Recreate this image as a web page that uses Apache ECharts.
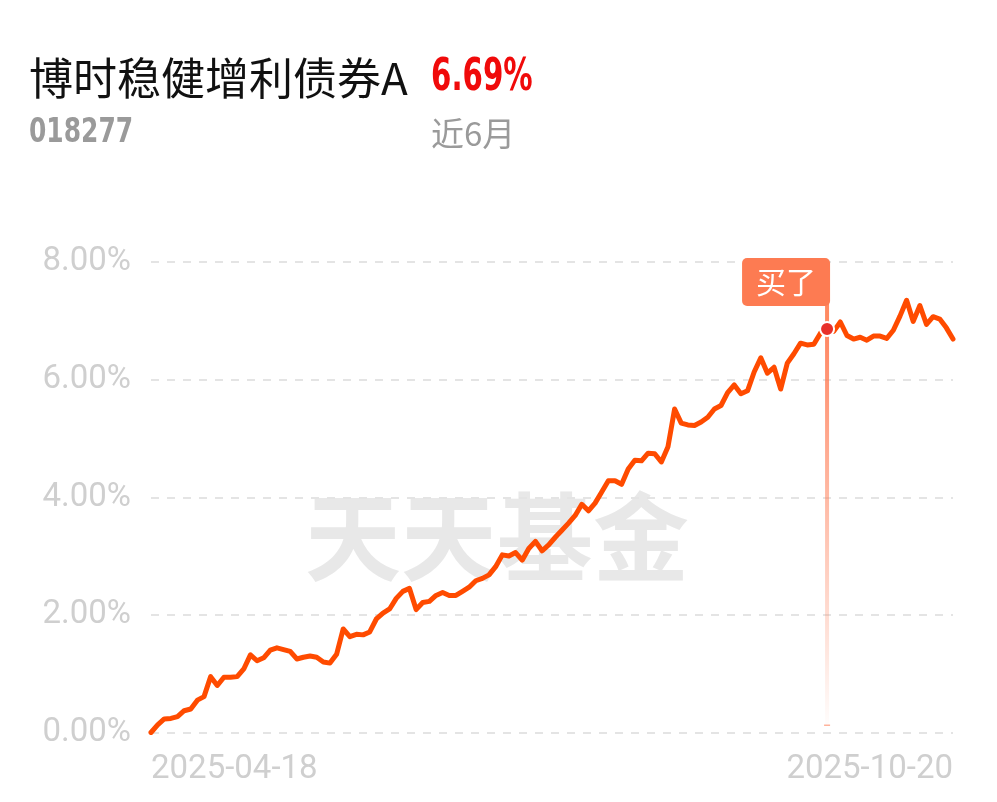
<!DOCTYPE html>
<html><head><meta charset="utf-8">
<script src="https://cdn.jsdelivr.net/npm/echarts@6/dist/echarts.min.js"></script>
<style>html,body{margin:0;padding:0;background:#fff}#c{width:997px;height:802px}</style>
</head><body><div id="c"></div>
<script>
const fundName = '博时稳健增利债券A';
const fundCode = '018277';
const periodReturn = '6.69%';
const periodLabel = '近6月';
const watermarkText = '天天基金';
const buyLabel = '买了';
const startDate = '2025-04-18';
const endDate = '2025-10-20';
const holidays = ['2025-05-01','2025-05-02','2025-05-05','2025-06-02',
  '2025-10-01','2025-10-02','2025-10-03','2025-10-06','2025-10-07','2025-10-08'];
const yMin = 0, yMax = 8, yStep = 2;
// cumulative return (%) per trading day
const returns = [
  0.00,0.13,0.23,0.24,0.27,0.37,0.40,0.55,0.61,0.95,
  0.80,0.94,0.94,0.95,1.08,1.32,1.22,1.27,1.40,1.44,
  1.41,1.38,1.25,1.28,1.30,1.28,1.20,1.18,1.33,1.76,
  1.63,1.67,1.66,1.71,1.93,2.03,2.10,2.28,2.40,2.45,
  2.09,2.21,2.23,2.33,2.38,2.33,2.33,2.40,2.47,2.58,
  2.62,2.68,2.82,3.02,3.00,3.06,2.93,3.13,3.25,3.09,
  3.19,3.32,3.44,3.56,3.69,3.88,3.77,3.90,4.09,4.28,
  4.28,4.22,4.48,4.63,4.62,4.75,4.74,4.60,4.86,5.50,
  5.26,5.23,5.22,5.28,5.36,5.50,5.56,5.78,5.91,5.76,
  5.81,6.13,6.37,6.11,6.21,5.84,6.28,6.44,6.62,6.59,
  6.60,6.79,6.86,6.82,6.98,6.75,6.69,6.72,6.67,6.74,
  6.74,6.70,6.84,7.08,7.35,6.99,7.26,6.94,7.07,7.03,
  6.88,6.69
];
const buyIndex = 102;

function tradingDays(s, e, hol) {
  const out = [];
  const d = new Date(s + 'T00:00:00Z');
  const end = new Date(e + 'T00:00:00Z');
  while (d <= end) {
    const iso = d.toISOString().slice(0, 10);
    const wd = d.getUTCDay();
    if (wd !== 0 && wd !== 6 && hol.indexOf(iso) < 0) out.push(iso);
    d.setUTCDate(d.getUTCDate() + 1);
  }
  return out;
}
let dates = tradingDays(startDate, endDate, holidays);
if (dates.length !== returns.length) {
  const n = returns.length;
  const arr = [];
  for (let i = 0; i < n; i++) arr.push(i === 0 ? startDate : (i === n - 1 ? endDate : (dates[i] || ('d' + i))));
  dates = arr;
}
const lastIdx = returns.length - 1;

const chart = echarts.init(document.getElementById('c'), null, {renderer: 'canvas'});
const option = {
  backgroundColor: '#ffffff',
  animation: false,
  grid: {left: 151, right: 44, top: 262, bottom: 69.5, containLabel: false},
  xAxis: {
    type: 'category', data: dates, boundaryGap: false,
    axisLine: {show: false}, axisTick: {show: false},
    splitLine: {show: false},
    axisLabel: {
      interval: function (i) { return i === 0 || i === lastIdx; },
      showMinLabel: true, showMaxLabel: true,
      alignMinLabel: 'left', alignMaxLabel: 'right',
      color: '#cfcfcf', fontSize: 33, fontFamily: 'Roboto', margin: 21
    }
  },
  yAxis: {
    type: 'value', min: yMin, max: yMax, interval: yStep,
    axisLine: {show: false}, axisTick: {show: false},
    axisLabel: {
      formatter: function (v) { return v.toFixed(2) + '%'; },
      color: '#cfcfcf', fontSize: 33, fontFamily: 'Roboto', margin: 20
    },
    splitLine: {show: true, lineStyle: {color: '#e4e4e4', width: 2, type: [8, 8]}}
  },
  series: [{
    type: 'line', data: returns, symbol: 'none', smooth: false, z: 5,
    lineStyle: {color: '#ff4b00', width: 5, join: 'round', cap: 'round'},
    markPoint: {
      symbol: 'circle', symbolSize: 14, silent: true, z: 10,
      itemStyle: {color: '#e8302a', borderColor: '#ffffff', borderWidth: 2},
      label: {show: false},
      data: [{coord: [buyIndex, returns[buyIndex]]}]
    }
  }],
  graphic: [
    {type: 'text', x: 29, y: 78, z: 10, style: {text: fundName, fill: '#111111', fontSize: 44,
      fontFamily: '"Noto Sans CJK SC", "Noto Sans", sans-serif', textAlign: 'left', textVerticalAlign: 'middle', align: 'left', verticalAlign: 'middle'}},
    {type: 'text', x: 431, y: 79, z: 10, scaleX: 0.74, style: {text: periodReturn, fill: '#f00a0a', fontSize: 44, fontWeight: 'bold',
      fontFamily: '"Liberation Sans Narrow", "DejaVu Sans Condensed", Roboto, sans-serif', textAlign: 'left', textVerticalAlign: 'middle', align: 'left', verticalAlign: 'middle'}},
    {type: 'text', x: 29, y: 133, z: 10, scaleX: 0.84, style: {text: fundCode, fill: '#9a9a9a', fontSize: 33, fontWeight: 'bold',
      fontFamily: '"Liberation Sans Narrow", "DejaVu Sans Condensed", Roboto, sans-serif', textAlign: 'left', textVerticalAlign: 'middle', align: 'left', verticalAlign: 'middle'}},
    {type: 'text', x: 431, y: 133, z: 10, style: {text: periodLabel, fill: '#9a9a9a', fontSize: 33,
      fontFamily: '"Noto Sans CJK SC", "Noto Sans", sans-serif', textAlign: 'left', textVerticalAlign: 'middle', align: 'left', verticalAlign: 'middle'}},
    {type: 'text', x: 497, y: 537, z: -1, silent: true, style: {text: watermarkText, fill: '#e8e8e8', fontSize: 96, fontWeight: 'bold',
      fontFamily: '"Noto Sans CJK SC", sans-serif', textAlign: 'center', textVerticalAlign: 'middle', align: 'center', verticalAlign: 'middle'}}
  ]
};
chart.setOption(option);

const p = chart.convertToPixel({seriesIndex: 0}, [buyIndex, returns[buyIndex]]);
const p0 = chart.convertToPixel({seriesIndex: 0}, [buyIndex, yMin]);
const flagW = 88, flagH = 48, flagTop = 258;
const lx = p[0];
chart.setOption({
  graphic: option.graphic.concat([
    {type: 'rect', z: 3, silent: true, shape: {x: lx - 2, y: flagTop + flagH - 2, width: 4, height: p[1] - (flagTop + flagH)},
      style: {fill: '#ff8a62'}},
    {type: 'rect', z: 3, silent: true, shape: {x: lx - 2, y: p[1], width: 4, height: p0[1] - 8 - p[1]},
      style: {fill: new echarts.graphic.LinearGradient(0, 0, 0, 1, [
        {offset: 0, color: 'rgba(255,128,90,0.95)'}, {offset: 1, color: 'rgba(255,128,90,0.02)'}])}},
    {type: 'rect', z: 3, silent: true, shape: {x: lx - 3, y: p0[1] - 8, width: 6, height: 1.5},
      style: {fill: 'rgba(255,128,90,0.6)'}},
    {type: 'rect', z: 11, silent: true, shape: {x: lx + 3 - flagW, y: flagTop, width: flagW, height: flagH, r: 5},
      style: {fill: '#fd7b52'}},
    {type: 'text', z: 12, silent: true, x: lx + 3 - flagW / 2, y: flagTop + flagH / 2,
      style: {text: buyLabel, fill: '#ffffff', fontSize: 30, fontFamily: '"Noto Sans CJK SC", sans-serif',
        textAlign: 'center', textVerticalAlign: 'middle', align: 'center', verticalAlign: 'middle'}}
  ])
});
</script></body></html>
